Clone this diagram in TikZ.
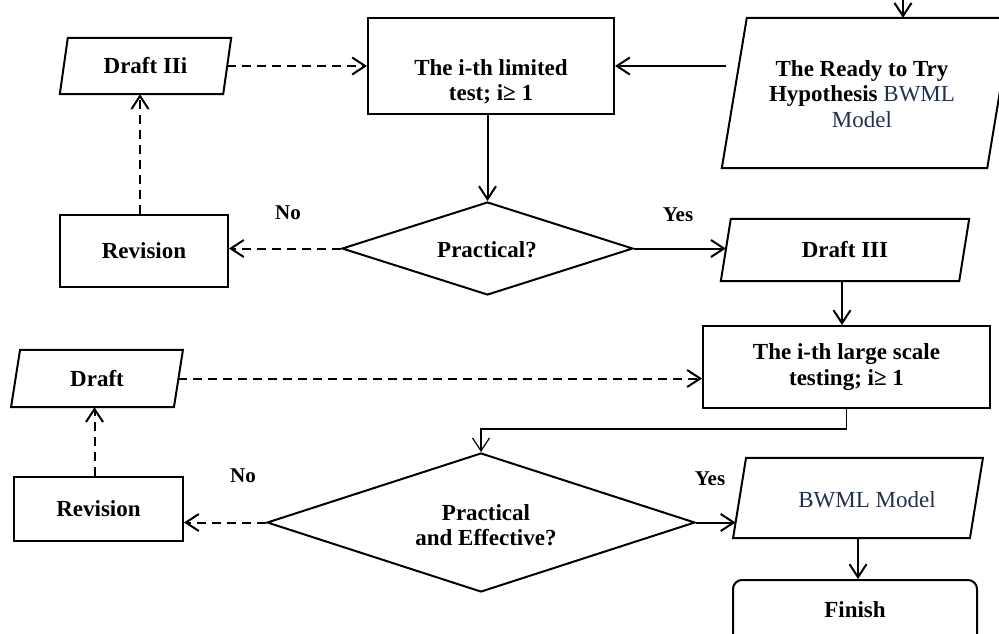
\documentclass[tikz,border=0pt]{standalone}
\usepackage{fontspec}
\setmainfont{Liberation Serif}
\usetikzlibrary{shapes.geometric,arrows.meta,calc}
\definecolor{navy}{HTML}{1F3050}
\newcommand\drawpara[2]{\draw[line width=2pt] ([xshift=#2pt]#1.north west) -- ([xshift=#2pt]#1.north east) -- ([xshift=-#2pt]#1.south east) -- ([xshift=-#2pt]#1.south west) -- cycle;}
\begin{document}
\begin{tikzpicture}[x=1pt,y=-1pt,
  every node/.style={font=\fontsize{23}{25.5}\selectfont\bfseries, align=center, inner sep=0pt},
  rectbox/.style={draw, line width=2pt},
  hole/.style={draw=none},
  dia/.style={diamond, draw, line width=2pt},
  lbl/.style={font=\fontsize{21}{24}\selectfont\bfseries},
  arr/.style={-{Straight Barb[length=13pt,width=17pt]}, line width=2pt},
  darr/.style={arr, dash pattern=on 9pt off 6pt}
]
\clip (0,0) rectangle (999,633);

% top row
\node[hole, minimum width=163pt, minimum height=56pt] (d3i) at (145.5,66) {Draft IIi};
\drawpara{d3i}{4}
\node[rectbox, minimum width=246pt, minimum height=96pt] (lim) at (491,66) {};
\node (limtxt) at (491,82) {The i-th limited\\test; i≥ 1};
\node[hole, minimum width=265pt, minimum height=150pt] (ready) at (867,93) {};
\drawpara{ready}{12.5}
\node (readytxt) at (862,94) {The Ready to Try\\Hypothesis {\mdseries\color{navy}BWML}\\{\mdseries\color{navy}Model}};
\coordinate (topin) at (903,-5);

% second row
\node[dia, minimum width=291pt, minimum height=93pt] (d1) at (487.5,248.5) {};
\node (d1txt) at (487,250) {Practical?};
\node[rectbox, minimum width=168pt, minimum height=72pt] (rev1) at (144,251) {Revision};
\node[hole, minimum width=238pt, minimum height=62pt] (d3) at (845,250) {Draft III};
\drawpara{d3}{5}
\node[lbl] (no1) at (288,213) {No};
\node[lbl] (yes1) at (678,215) {Yes};

% third row
\node[hole, minimum width=162.5pt, minimum height=57pt] (dr) at (97,378.5) {Draft};
\drawpara{dr}{4.5}
\node[rectbox, minimum width=287pt, minimum height=82pt] (large) at (846.5,367) {The i-th large scale\\testing; i≥ 1};

% fourth row
\node[dia, minimum width=428pt, minimum height=139pt] (d2) at (481,522.5) {};
\node (d2txt) at (486,525) {Practical\\and Effective?};
\node[rectbox, minimum width=169pt, minimum height=64pt] (rev2) at (98.5,509) {Revision};
\node[hole, minimum width=236.5pt, minimum height=80pt] (bw) at (858,498) {};
\drawpara{bw}{6.5}
\node (bwtxt) at (867,500) {\mdseries\color{navy}BWML Model};
\node[rectbox, rounded corners=9pt, minimum width=244pt, minimum height=66pt] (fin) at (855,613) {};
\node (fintxt) at (855,610) {Finish};
\node[lbl] (no2) at (243,476) {No};
\node[lbl] (yes2) at (710,479) {Yes};

% connectors
\draw[arr] (topin) -- (topin |- ready.north);
\draw[darr] (d3i.east) -- (lim.west);
\draw[arr] ([xshift=-8pt]ready.west |- lim.east) -- (lim.east);
\draw[arr] (d1.north |- lim.south) -- (d1.north);
\draw[darr] (d1.west) -- (d1.west -| rev1.east);
\draw[darr] ([xshift=-4pt]rev1.north) -- ([xshift=-4pt]rev1.north |- d3i.south);
\draw[arr] (d1.east) -- (d1.east -| d3.west);
\draw[arr] ([xshift=-3pt]d3.south) -- ([xshift=-3pt]d3.south |- large.north);
\draw[darr] (dr.east) -- (dr.east -| large.west);
\draw[arr, line width=1.2pt] (large.south) -- ++(0,20) -| (d2.north);
\draw[darr] (d2.west) -- (d2.west -| rev2.east);
\draw[darr] ([xshift=-4pt]rev2.north) -- ([xshift=-4pt]rev2.north |- dr.south);
\draw[arr] (d2.east) -- ([xshift=-4pt]d2.east -| bw.west);
\draw[arr] (bw.south) -- (bw.south |- fin.north);
\end{tikzpicture}
\end{document}
